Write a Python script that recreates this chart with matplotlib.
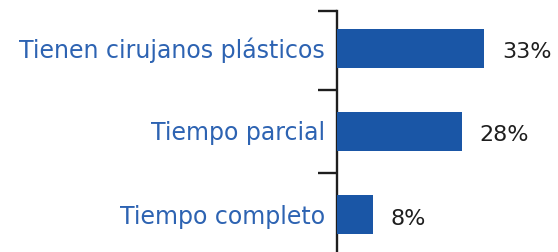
import matplotlib
matplotlib.use("Agg")
import matplotlib.pyplot as plt
from matplotlib.ticker import FixedLocator

categories = ["Tienen cirujanos plásticos", "Tiempo parcial", "Tiempo completo"]
values = [33, 28, 8]
value_labels = ["33%", "28%", "8%"]

bar_color = "#1a56a6"
label_color = "#2d63b2"
text_color = "#1e1e1e"

fig = plt.figure(figsize=(5.58, 2.53), dpi=100)
W, H = 558, 253
ax = fig.add_axes([337 / W, 0, (W - 337) / W, 241 / H])

y = list(range(len(categories)))
ax.barh(y, values, height=0.47, color=bar_color, zorder=3)
ax.set_xlim(0, (W - 337) / 4.45)
ax.set_ylim(2.45, -0.45)

for s in ["top", "right", "bottom"]:
    ax.spines[s].set_visible(False)
ax.spines["left"].set_color(text_color)
ax.spines["left"].set_linewidth(1.7)
ax.spines["left"].set_zorder(2)
ax.set_xticks([])
ax.yaxis.set_major_locator(FixedLocator([-0.45, 0.5, 1.5]))
ax.set_yticklabels([])
ax.tick_params(axis="y", length=14, width=1.7, color=text_color)

for yi, cat in zip(y, categories):
    ax.annotate(cat, xy=(0, yi), xytext=(-12, -1), textcoords="offset pixels",
                ha="right", va="center", fontsize=17, color=label_color,
                family="DejaVu Sans", annotation_clip=False)
for yi, v, lab in zip(y, values, value_labels):
    ax.annotate(lab, xy=(v, yi), xytext=(18, -3), textcoords="offset pixels",
                ha="left", va="center", fontsize=16, color=text_color,
                family="DejaVu Sans", annotation_clip=False)

fig.savefig("out.png", dpi=100)
